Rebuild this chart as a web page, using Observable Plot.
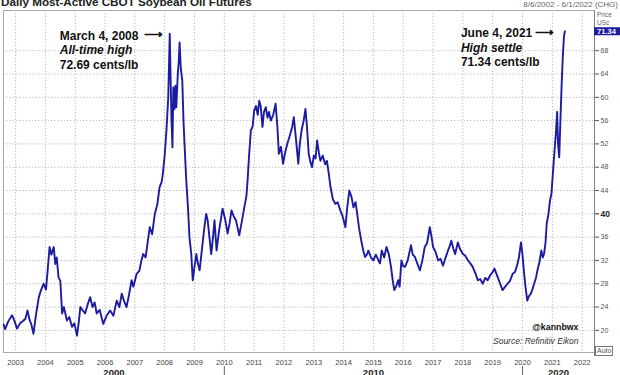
<!DOCTYPE html>
<html><head><meta charset="utf-8">
<script src="https://cdn.jsdelivr.net/npm/d3@7"></script>
<script src="https://cdn.jsdelivr.net/npm/@observablehq/plot@0.6"></script>
<style>
body{margin:0;background:#fff;font-family:Arial,"Liberation Sans",sans-serif;}
#wrap{position:relative;width:620px;height:375px;overflow:hidden;background:#fff;}
#wrap svg{position:absolute;left:0;top:0;}
.ov{position:absolute;white-space:nowrap;}
#title{left:1px;top:-4px;font-size:11.7px;font-weight:bold;color:#222;line-height:12px;}
#range{right:2px;top:0px;font-size:8px;color:#666;line-height:10px;}
#price{left:597px;top:11px;font-size:6.5px;color:#666;line-height:7.5px;}
#auto{left:595px;top:346px;font-size:7px;color:#555;border:1px solid #777;padding:0 1px;line-height:8px;background:#fff;}
</style></head><body>
<div id="wrap">
  <div class="ov" id="price">Price<br>USc</div>
  <div id="chart"></div>
  <div class="ov" id="title">Daily Most-Active CBOT Soybean Oil Futures</div>
  <div class="ov" id="range">8/6/2002 - 6/1/2022 (CHG)</div>
  <div class="ov" id="auto">Auto</div>
</div>
<script>
// Settlement prices (US cents/lb); dates as decimal years
const yearFrac = [
  2002.60,2002.65,2002.75,2002.88,2002.95,
  2003.05,2003.15,2003.25,2003.33,2003.40,2003.47,2003.53,2003.60,2003.68,2003.78,2003.86,2003.94,
  2004.02,2004.08,2004.14,2004.20,2004.28,2004.33,2004.38,2004.44,2004.50,2004.56,2004.62,2004.72,2004.80,2004.89,2004.97,
  2005.06,2005.12,2005.17,2005.24,2005.33,2005.42,2005.50,2005.58,2005.65,2005.72,2005.82,2005.94,
  2006.05,2006.17,2006.28,2006.39,2006.48,2006.56,2006.64,2006.72,2006.80,2006.89,2006.95,
  2007.06,2007.15,2007.22,2007.28,2007.36,2007.44,2007.50,2007.58,2007.67,2007.75,2007.83,2007.90,2007.94,
  2008.00,2008.06,2008.12,2008.17,2008.20,2008.23,2008.26,2008.29,2008.33,2008.36,2008.39,2008.44,2008.47,2008.50,2008.54,2008.59,2008.63,2008.67,2008.72,2008.78,2008.83,2008.89,2008.94,
  2009.00,2009.06,2009.11,2009.17,2009.25,2009.33,2009.39,2009.44,2009.50,2009.56,2009.62,2009.67,2009.74,2009.82,2009.94,
  2010.03,2010.11,2010.18,2010.24,2010.32,2010.39,2010.45,2010.50,2010.58,2010.67,2010.74,2010.78,2010.83,2010.89,2010.95,
  2011.00,2011.06,2011.12,2011.17,2011.22,2011.28,2011.33,2011.39,2011.45,2011.50,2011.56,2011.64,2011.72,2011.78,2011.83,2011.90,2011.97,
  2012.04,2012.11,2012.20,2012.28,2012.33,2012.40,2012.48,2012.53,2012.59,2012.66,2012.72,2012.77,2012.83,2012.88,2012.94,
  2013.00,2013.06,2013.11,2013.17,2013.22,2013.30,2013.38,2013.44,2013.50,2013.56,2013.64,2013.72,2013.80,2013.89,2013.97,
  2014.06,2014.12,2014.19,2014.26,2014.33,2014.40,2014.44,2014.52,2014.61,2014.67,2014.72,2014.78,2014.83,2014.92,
  2015.00,2015.08,2015.17,2015.22,2015.28,2015.36,2015.44,2015.52,2015.59,2015.65,2015.70,2015.76,2015.83,2015.88,2015.94,
  2016.00,2016.06,2016.15,2016.26,2016.32,2016.39,2016.47,2016.56,2016.64,2016.72,2016.80,2016.89,2016.95,
  2017.00,2017.08,2017.17,2017.25,2017.33,2017.42,2017.50,2017.56,2017.61,2017.68,2017.74,2017.83,2017.90,
  2018.00,2018.08,2018.17,2018.25,2018.33,2018.42,2018.50,2018.58,2018.67,2018.75,2018.83,2018.92,
  2019.00,2019.06,2019.17,2019.25,2019.33,2019.42,2019.50,2019.58,2019.67,2019.75,2019.83,2019.88,2019.95,
  2020.00,2020.05,2020.10,2020.16,2020.21,2020.28,2020.33,2020.39,2020.45,2020.50,2020.56,2020.63,2020.68,2020.72,2020.77,2020.81,2020.87,2020.92,2020.97,
  2021.00,2021.06,2021.12,2021.16,2021.19,2021.23,2021.27,2021.31,2021.35,2021.39,2021.42
];
const settle = [
  21.0,20.2,21.5,22.6,21.8,
  20.3,21.2,21.6,22.0,23.4,21.8,21.0,19.4,22.5,25.7,27.0,28.0,
  27.0,30.5,34.3,33.0,34.3,31.4,32.5,29.1,28.5,22.9,24.0,21.7,22.3,20.6,21.2,
  19.1,21.5,24.0,23.5,22.9,24.5,25.7,24.0,24.8,22.9,23.5,21.1,
  22.5,23.4,22.5,25.1,24.0,26.3,25.0,24.0,26.0,28.6,27.5,
  29.7,30.2,32.0,33.1,32.5,35.5,37.7,36.5,40.0,41.5,44.6,45.5,46.9,
  50.0,54.3,60.0,70.9,63.0,56.0,51.4,61.7,58.0,62.0,58.3,64.0,66.0,69.4,65.0,62.9,56.0,51.4,46.0,41.1,36.0,33.1,28.6,
  31.0,33.1,31.5,30.3,34.0,37.7,40.0,38.9,36.0,33.1,36.0,38.9,33.7,37.0,40.9,
  39.0,36.6,38.5,40.6,39.5,38.9,37.5,36.3,38.5,41.1,43.0,45.7,50.0,54.3,55.0,
  57.7,58.5,57.0,59.4,58.5,54.9,57.5,58.3,56.5,57.5,56.0,57.0,58.9,55.0,50.3,51.5,48.6,
  50.5,52.0,53.5,55.0,56.6,53.0,48.6,52.0,54.3,56.0,58.0,55.0,50.3,49.0,48.0,
  50.0,49.5,52.6,50.5,49.1,50.0,48.5,49.1,47.0,44.6,42.5,41.7,42.0,40.6,39.5,
  37.7,41.0,44.0,43.0,41.1,42.0,40.6,37.5,34.9,33.5,32.6,33.0,33.7,32.5,
  32.0,33.0,32.0,31.5,33.7,32.5,34.3,33.0,30.9,28.5,26.9,27.5,28.6,27.5,32.0,
  31.0,30.9,32.0,34.6,33.0,32.6,31.5,30.3,32.0,34.3,35.0,37.7,36.0,
  34.3,33.5,32.0,32.3,31.1,32.5,33.7,34.5,35.4,34.0,33.1,35.1,34.0,
  33.1,32.8,32.0,31.5,30.9,29.8,28.6,28.8,28.0,29.0,28.6,29.5,
  30.0,30.6,29.1,28.0,26.9,27.5,28.0,28.5,29.7,30.0,31.4,32.5,35.1,
  33.0,30.0,27.5,25.1,25.8,26.3,27.0,28.0,29.0,30.3,31.5,33.7,32.5,33.1,35.0,38.3,40.0,42.3,43.5,
  45.7,50.0,54.0,57.5,52.0,49.7,56.0,62.0,67.0,70.5,71.34
];
const xStart = "2002-08-06", xEnd = "2022-06-01";
const yearTickLabels = [2003,2004,2005,2006,2007,2008,2009,2010,2011,2012,2013,2014,2015,2016,2017,2018,2019,2020,2021,2022];
const priceTicks = [20,24,28,32,36,40,44,48,52,56,60,64,68];
const decadeLabels = ["2000","2010","2020"];
const decadeBreaks = [2010,2020];
const annotationDates = [2008.17, 2021.42];
const annotationTitle = ["March 4, 2008", "June 4, 2021"];
const annotationSub = ["All-time high", "High settle"];
const annotationValue = ["72.69 cents/lb", "71.34 cents/lb"];
const credit = "@kannbwx";
const source = "Source: Refinitiv Eikon";

const toDate = t => { const y = Math.floor(t); const s = Date.UTC(y,0,1), e = Date.UTC(y+1,0,1); return new Date(s + (t - y) * (e - s)); };
const series = yearFrac.map((t, i) => ({date: toDate(t), price: settle[i]}));
const x0 = new Date(xStart), x1 = new Date(xEnd);
const yearTicks = yearTickLabels.map(y => new Date(Date.UTC(y,0,1)));
const breaks = decadeBreaks.map(y => new Date(Date.UTC(y,0,1)));
const bounds = [x0, ...breaks, x1];
const decades = decadeLabels.map((l, i) => ({label: l, date: new Date((+bounds[i] + +bounds[i+1]) / 2)}));
const last = series[series.length - 1];
const priceAt = t => { let best = series[0]; for (const d of series) if (Math.abs(+d.date - +toDate(t)) < Math.abs(+best.date - +toDate(t))) best = d; return best; };

const font = "Arial, 'Liberation Sans', sans-serif";
const blue = "#1c1ca2";
const annoMarks = [];
const annoDx = [-110, -104], arrowDx = [-7, -11];
annotationDates.forEach((t, i) => {
  const p = [priceAt(t)];
  annoMarks.push(
    Plot.text(p, {x: "date", y: "price", text: () => annotationTitle[i], textAnchor: "start", dx: annoDx[i], dy: 2, fontSize: 12, fontWeight: "bold", fill: "#111"}),
    Plot.text(p, {x: "date", y: "price", text: () => "\u27F6", textAnchor: "end", dx: arrowDx[i], dy: 1.5, fontSize: 13, fontWeight: "bold", fill: "#111"}),
    Plot.text(p, {x: "date", y: "price", text: () => annotationSub[i], textAnchor: "start", dx: annoDx[i], dy: 16.5, fontSize: 12, fontWeight: "bold", fontStyle: "italic", fill: "#111"}),
    Plot.text(p, {x: "date", y: "price", text: () => annotationValue[i], textAnchor: "start", dx: annoDx[i], dy: 31, fontSize: 12, fontWeight: "bold", fill: "#111"})
  );
});

const chart = Plot.plot({
  width: 620, height: 375,
  marginLeft: 3, marginRight: 26, marginTop: 10, marginBottom: 23,
  style: {fontFamily: font, background: "transparent", overflow: "visible"},
  x: {type: "utc", domain: [x0, x1], label: null},
  y: {domain: [16.2, 74.9], label: null},
  marks: [
    Plot.gridX(yearTicks, {stroke: "#b5b5b5", strokeOpacity: 1, strokeDasharray: "1.2,2"}),
    Plot.gridY(priceTicks, {stroke: "#b5b5b5", strokeOpacity: 1, strokeDasharray: "1.2,2"}),
    Plot.frame({stroke: "#a8a8a8"}),
    Plot.ruleX([x1], {stroke: "#808080", insetBottom: -4}),
    Plot.lineY(series, {x: "date", y: "price", stroke: blue, strokeWidth: 1.9, strokeLinejoin: "round"}),
    Plot.axisX(yearTicks, {anchor: "bottom", label: null, tickSize: 0, tickPadding: 7, tickFormat: d => String(d.getUTCFullYear()), fontSize: 7.5, color: "#444"}),
    Plot.axisY(priceTicks.filter(v => v !== 40), {anchor: "right", label: null, tickSize: 4, tickPadding: 2, fontSize: 7, color: "#555"}),
    Plot.axisY([40], {anchor: "right", label: null, tickSize: 4, tickPadding: 2, fontSize: 8.5, fontWeight: "bold", color: "#222"}),
    Plot.text(decades, {x: "date", frameAnchor: "bottom", text: "label", lineAnchor: "top", dy: 17, fontSize: 9.5, fontWeight: "bold", fill: "#222"}),
    Plot.ruleX(breaks, {insetTop: 356, insetBottom: -23, stroke: "#666"}),
    Plot.ruleY([last.price], {insetLeft: 591, insetRight: -26, stroke: blue, strokeWidth: 8}),
    Plot.text([last.price], {y: d => d, frameAnchor: "right", textAnchor: "middle", dx: 12, text: d => d.toFixed(2), fill: "white", fontWeight: "bold", fontSize: 7.5}),
    ...annoMarks,
    Plot.text([credit], {frameAnchor: "bottom-right", textAnchor: "end", text: d => d, dx: -16, dy: -23, fontSize: 8.8, fontWeight: "bold", fill: "#111"}),
    Plot.text([source], {frameAnchor: "bottom-right", textAnchor: "end", text: d => d, dx: -16, dy: -9, fontSize: 8.5, fontStyle: "italic", fill: "#333"})
  ]
});
document.getElementById("chart").appendChild(chart);
</script>
</body></html>
